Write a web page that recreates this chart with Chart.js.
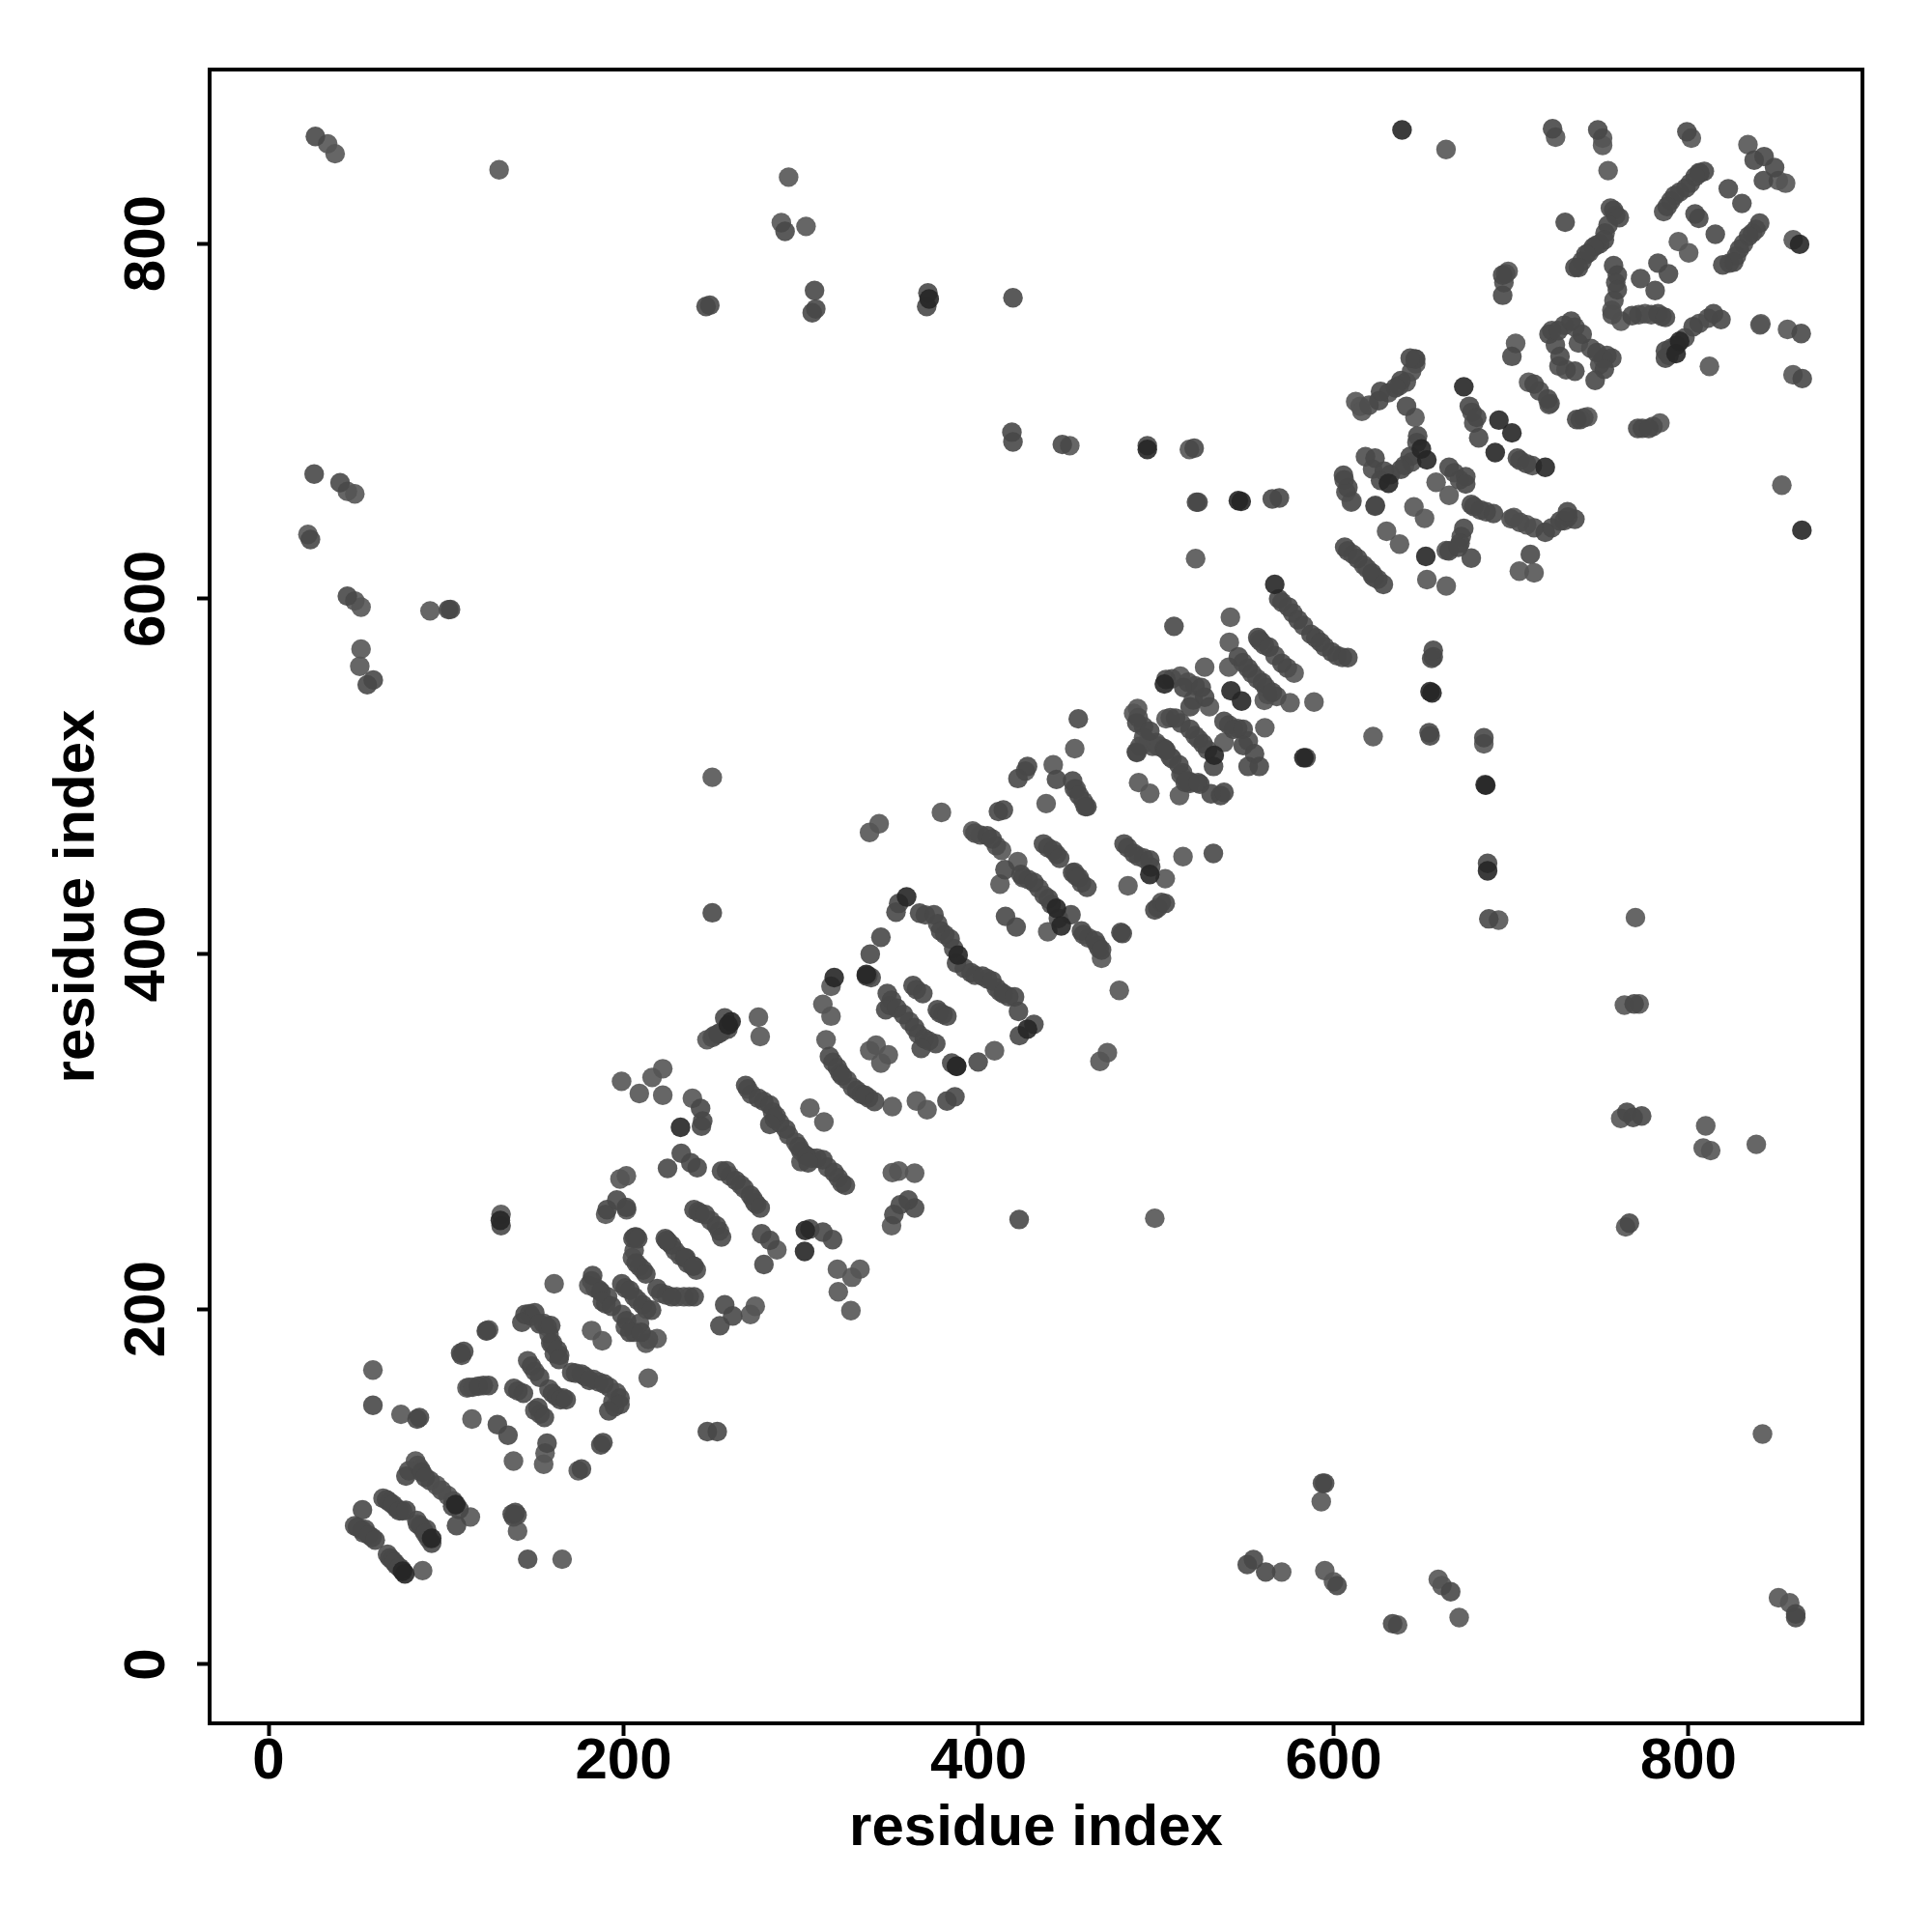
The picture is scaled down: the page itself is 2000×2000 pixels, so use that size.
<!DOCTYPE html>
<html>
<head>
<meta charset="utf-8">
<script src="https://cdn.jsdelivr.net/npm/chart.js@4"></script>
<style>
  html, body { margin: 0; background: #fff; }
  canvas { display: block; }
</style>
</head>
<body>
<canvas id="myChart" width="2000" height="2000"></canvas>
<script>
// contacts, as [residue, residue], by how dark the dot looks
const lightPoints = [
  [58.8,165.7],[74.6,140.8],[86.8,52.8],[82.8,114.5],[94.6,100.9],[101,95],[113.7,83],[140.3,75],[165.4,59.2],
  [114.6,138.1],[138,114.5],[155,112.7],[155.8,119],[174.5,109],[111.8,155.7],[160.9,214.3],[182,188],[188,182.2],
  [213.9,161.2],[180.4,213.4],[212.6,180.8],[218.9,183.5],[198.9,328.3],[208.9,321.4],[222.1,320.5],[216.1,330.5],
  [222.1,335.4],[238.8,318.7],[276,364.4],[277,353.5],[247,351.7],[312.9,305.4],[305,313.2],[312.3,371.7],[316.9,365],
  [314.1,351.7],[351.4,314.1],[365,317.2],[371,312.3],[342.3,348.6],[349.2,343.2],[338.7,345.6],[345,338.6],
  [316.9,381.8],[198,273.3],[201.6,275.1],[320.5,222.5],[333.2,222.5],[328.7,218],[321,209.8],[328.1,199.2],
  [274.2,201.6],[271.5,197],[286.4,233.4],[355,277.8],[364,276.6],[351.4,276.9],[351,247],[409,345.5],[468.4,339.5],
  [472.6,344.4],[479.3,379.5],[338.6,468.4],[344,473.3],[379.1,479.7],[396.7,469.3],[413,458.4],[412.1,439.3],
  [422.1,452],[439,412.5],[469.3,397.6],[442.1,506.5],[454.2,515.6],[438.1,484.7],[484.2,438.4],[515.2,454.8],
  [488.9,513.8],[495.6,519.2],[490.2,496.5],[496.5,490.5],[513.2,489.2],[505.2,442.4],[522.3,622.6],[541.9,589.6],
  [541.3,575.5],[577.8,558.2],[541,561.5],[561,542.8],[575.5,541.5],[589,541.9],[527.4,561.5],[513.7,556.4],
  [530.1,539.2],[489.6,538.2],[487.4,535.5],[505.6,532.4],[561.3,527.4],[622.3,522.4],[538.3,519.2],[663.4,853],
  [725.1,859.9],[751.6,859.4],[751.6,855.3],[754.7,841.1],[801.6,859.4],[833.5,855.7],[854.7,834],[850.6,835.5],
  [794.3,801.1],[800.1,794.8],[859,802.1],[698.4,784.4],[756.8,762.5],[762,756.3],[775.5,760.5],[702.6,743.8],
  [840.8,754.8],[855.8,751.7],[811.8,730.9],[858.9,726.1],[852.6,664],[709.9,721.9],[721.4,709.4],[743.2,702.5],
  [783.9,699],[645.9,702.1],[615,708.4],[646.3,732.3],[657.8,665.6],[665.1,658.3],[701.6,645.8],[708.8,641.7],
  [704.7,615.6],[713,614.6],[645.3,651.7],[651.3,645.3],[629.9,638],[637.2,630.8],[663.5,627.2],[652.6,610.8],
  [663.5,607.2],[610,654.4],[612.5,711],[616,705.6],[610.4,655],[293,837.4],[288.9,811.8],[302.8,809.7],[129.9,841.6],
  [33.3,856.2],[37.5,850.6],[44.4,660.5],[48.6,659.1],[22.2,636.2],[48.6,598.8],[52.1,595.3],[52.1,571.7],[51.4,562],
  [91,593.2],[451.4,686.2],[518.8,684.1],[250,499.5],[426.4,503],[499.3,251.2],[684.7,518.3],[693,419.1],[770.1,420.5],
  [763.9,371.2],[772.2,371.9],[761.8,307.4],[764.6,246.3],[809.7,303.2],[808.3,290.7],[812.5,289.3],[838.2,292.8],
  [841.7,129.7],[593.1,91.6],[595.1,52.7],[600,46.5],[636.1,22.2],[659,47.9],[661.1,44.4],[670.8,26.4],[850.7,37.5],
  [857,34.7],[570.8,52],[840.3,754.2],[131,253.4],[124,188.4],[189.9,253.4],[201.7,256]
];
const midPoints = [
  [50.1,77.3],[52.9,75.5],[56.5,72.8],[60.1,70],[68.3,60],[71,57.4],[73.7,54.6],[52.9,87],[66.5,92.7],[70.1,90],
  [73.7,86.4],[77.4,86.7],[85.5,78.2],[88.3,73.7],[91.9,68.2],[77.4,106],[86.4,108.2],[88.3,105.4],[103.7,89],[107.3,87.3],
  [105.9,78.2],[137.3,84.6],[139,85.5],[146,59.2],[58.8,145.9],[83.7,138.1],[85,139],[128.9,135],[134.9,129],[156.9,124.5],
  [176.3,110],[187.2,123.6],[188.4,124.9],[118.2,156.6],[124,157],[108.2,175.3],[110,176.2],[122.7,187.7],[131,247],
  [138.2,155.4],[143.6,152.6],[151.8,144.5],[155.4,139],[148.1,168],[152.7,161.7],[160,152.6],[164.5,149],[167.7,149],
  [144.5,197],[150,198],[142.7,192.6],[152.7,191.7],[159,190.8],[159,180.8],[162.7,177],[163.6,171.7],[170.8,164.4],
  [176.3,163.5],[180.8,159.9],[189,158],[198,150],[198,146.3],[191.7,142.7],[182.6,218.9],[187.2,209.8],[188.1,204.4],
  [193.2,201.6],[201.7,193.5],[203.5,187],[209.9,187],[207.1,240.7],[205.3,239.8],[223.5,239.8],[227.1,236.1],[238.9,224.3],
  [234.4,228.9],[207.1,226],[212.6,219.8],[199,214.3],[203.5,210.7],[210.8,202.5],[215.8,199.5],[218.9,211.6],[227.1,207],
  [239.8,207],[243.4,313],[244.6,306],[243.9,303],[257,364],[258.8,357.7],[253.3,355],[268.8,326],[276,318.7],[282.4,315],
  [286,308.7],[291.5,301.4],[282.4,304],[298.7,291.5],[303.3,286],[312.3,284.2],[318.7,277],[325,269.7],[304,282.4],
  [336.8,387.7],[339.5,386.7],[316,342.3],[320.5,336],[323.2,331.4],[331.4,323.2],[336,320.5],[341.4,316.9],[382.2,317.2],
  [386.7,319.6],[348.6,377.7],[347.7,368.6],[354,369.5],[357.7,365.9],[364,358.6],[369.5,352.3],[375.9,349.5],[367.7,346.8],
  [363.1,382.2],[368.6,377.7],[376.8,368.6],[382.2,365],[387.7,336.8],[190.7,256],[196.2,261.5],[201.6,257.3],[237.9,282.4],
  [241.5,279.7],[224.8,279.3],[232.5,287.8],[255.2,277.8],[263.3,272.4],[271.5,264.2],[277,257],[239.7,256],[246,253.3],
  [252.4,247],[255.2,240.6],[277.8,242.4],[282.4,238.8],[279.1,225.2],[305,245.2],[312.3,243.4],[317.8,239.2],[360.4,261.5],
  [364,257],[355.9,258.8],[352.3,253.3],[206.2,240.6],[208,239.7],[224.3,238.8],[235.2,228.9],[239.7,224.3],[257,202.5],
  [261.5,196.2],[254.3,190.7],[353.5,423.6],[355,428.5],[366.8,423],[374.9,422.1],[378.6,413],[384,408.5],[387.6,394.9],
  [395.8,389.4],[402.2,387.6],[407.6,384.9],[414,377.6],[420.3,375.8],[422.5,367.7],[431.2,360.4],[423,354],[399.8,339.2],
  [384.9,338.6],[345,409.4],[339,399.9],[337.7,387.6],[404.9,466.6],[407.6,464.8],[414.9,447.5],[423.9,444.8],[431.2,440.3],
  [439.4,431.2],[452.1,422.1],[415.2,421.2],[421.2,415.2],[458,413],[465.7,407.6],[469.3,402.2],[480.2,412.1],[481,411.5],
  [411.2,480.2],[414,481.1],[436.6,462],[442.1,458.4],[445.7,453.9],[453,445.7],[456.6,443],[461.1,437.5],[427.6,505.6],
  [443.9,498.3],[453,497.4],[456.6,489.3],[461.1,482.9],[482,462],[487.5,456.6],[496.5,453],[499.3,424.8],[505.2,428.5],
  [504.7,515.6],[512.9,506.5],[516.5,496.5],[524.7,495.6],[522.8,654.4],[523.7,654.4],[565.5,656.2],[569.5,656.8],[569.1,600],
  [574.6,595.4],[580,588.2],[587.3,580],[592.7,575.5],[599,570],[608.1,566.9],[510.1,584.5],[557.3,578.2],[563.7,572.7],
  [570.9,563.7],[546.4,567.3],[551.9,560.9],[560,552.8],[565.5,547.3],[505.6,554.6],[515.6,550],[525.5,550],[527.4,544.6],
  [519.2,539.2],[489.2,530.1],[496.5,525.5],[489.2,513.4],[505.6,514.7],[517.4,497.4],[523.7,496.5],[511,532.8],[519.2,526.5],
  [526.5,518.3],[532.4,505.6],[538.3,531],[543.7,526.5],[549.1,526.5],[549.1,517.4],[555.5,512.8],[551.9,505.6],[558.2,505.6],
  [584.5,510.5],[654.4,522.8],[653.9,524.6],[656.2,567.3],[655.3,566.4],[656.2,571],[456.2,532.4],[531,490.2],[536.4,489.2],
  [538.3,491],[460.2,482.9],[532.3,456.6],[623.6,652.6],[606.3,629],[613.6,622.6],[621.7,614.5],[628.1,608.1],[608.1,662.6],
  [723.4,864.7],[748.9,864],[799.1,863],[837,847],[842.6,849],[848.5,842.8],[842.2,835.5],[808.9,840.7],[806.4,839.7],
  [803.7,837.6],[798.5,831.3],[792.2,827.1],[788,820.9],[822.4,830.9],[830.1,822.6],[803.7,816.7],[805.8,814.2],[815.1,805.3],
  [840.1,811.5],[833.9,804.2],[828.7,796.9],[825.5,789.6],[819.3,788],[730.5,812],[757.8,818.8],[761,814.6],[754.7,810.5],
  [752.6,802.1],[746.4,798],[742.2,793.8],[736,786.5],[738,786.5],[695.3,782.3],[695.3,770.9],[757.8,787.6],[759.9,782.3],
  [759.9,774],[773,780.3],[781.2,773.6],[782.8,789],[788.7,783],[768.2,759.4],[782.8,760.5],[787,758.4],[700.5,736.5],
  [721.4,749],[726.6,751],[733.9,756.3],[740.1,749],[727.6,736.5],[736,728.2],[748.4,738.6],[756.8,735.5],[752.6,729.2],
  [747.4,723],[818.3,757.3],[814.1,760.5],[802.6,753.2],[793.2,742.7],[787,739.6],[787,735.5],[863.5,749.4],[864.1,724],
  [713,720.9],[720.7,712.5],[737,701],[771.4,695.9],[777.6,695.9],[676.5,708.4],[680.7,702.1],[681.8,690.6],[703.6,679.2],
  [708.8,676],[646.3,735],[643.2,735.5],[638,722.9],[634.9,718.8],[626.5,716.7],[625.5,711.5],[641.1,708.4],[647.4,691.7],
  [643.2,680.2],[638,672.9],[623.4,679.2],[628.6,671.9],[626.5,666.7],[665.1,674],[674.5,668.8],[674.5,664.6],[623.4,652.1],
  [677.6,653.1],[682.8,650],[690.1,648],[673.4,639.6],[671.3,631.3],[719.3,637.5],[727.6,643.8],[736,644.8],[731.8,649],
  [710.9,625],[677.6,622.9],[665,627],[670.3,629],[605.6,669.6],[26.4,860.3],[291,806.9],[246.5,764.6],[248.6,765.3],
  [307.6,773.6],[308.3,763.2],[306.3,761.1],[371.5,772.2],[370.8,764.6],[419.4,769.5],[25.7,670.2],[40.3,665.4],[23.6,633.4],
  [44.4,601.5],[55.6,551.6],[59,554.3],[101.4,593.9],[102.5,594],[418.8,693.8],[419.4,688.3],[447.2,686.9],[495.1,686.2],
  [521.5,684.8],[250,423.2],[422.2,498.8],[422.9,250.5],[247.2,131.1],[252.8,131.1],[685.4,495.4],[684.7,521.8],[686.8,451],
  [687.5,419.8],[769.4,371.9],[765.3,310.8],[773.6,308.8],[768.8,308],[766.7,248.4],[593.8,102],[595,102],[551.4,56.2],
  [554.9,59],[561.8,52],[602,44.4],[633.3,22.9],[666,40.9],[860.4,28.4],[860.4,26.4]
];
// dots inside the solid runs along the helices
const runPoints = [
  [53.5,74],[58.3,71.5],[54.5,76],[48.5,78],[69.5,59],[72,56],[75,53.5],[67,62],[68,91.5],[72,88],[75.5,86.5],[64.5,93.5],
  [83.5,81],[87,76],[90,71],[84,79],[89,76],[84,112],[85.5,110],[79,109],[91,103.5],[97.5,98],[104,92],[140,84],[138,83],
  [113,156],[115,156],[121,157],[108.8,174],[123,188],[148,196],[155,192],[147,197.5],[157,190],[158,186],[160,181],[161,175],
  [164,174],[173,164],[178.5,162],[183,160.5],[186,159],[192,156],[196,153],[195,145],[194,148],[150,165],[146,171],[150,143],
  [153,141],[162,151],[158,155],[140.5,154],[166,150],[182,216],[184,212],[186,211],[190,203],[191,207],[199,197],[201,190],
  [206,187],[214,183],[209,192],[206,233],[209,224],[205,229],[211,222],[201,212],[206,207],[208,205],[213,200],[221,209],
  [224,208],[230,207],[234,207],[237,207],[225,238],[229,233],[232,230],[236,226],[241,222],[270,324],[272,321],[279,317],
  [284,311],[288,305],[285,307],[293,298],[297,294],[300,289],[302,287],[306,285],[309,285],[315,280],[321,274],[323,271],
  [300,283],[258,278],[260,275],[266,270],[268,268],[274,260],[273,262],[275,259],[242,255],[249,250],[254,244],[243,254],
  [250,353],[255,356],[251,354],[318,339],[322,333],[326,329],[329,325],[334,321],[338,319],[351,374],[350,371],[361,362],
  [366,355],[372,351],[365,380],[378,367],[380,366],[370,422],[377,417],[381,411],[386,403],[392,392],[398,388],[405,386],
  [410,381],[412,379],[417,376],[398,468],[401,467],[410,461],[425,443],[428,442],[434,437],[437,433],[441,428],[445,420],
  [459,411],[462,409],[467,405],[468,403],[439,460],[444,456],[455,444],[458,440],[454,446],[455,493],[459,486],[454,493],
  [484,460],[490,455],[493,454],[497,449],[503,429],[501,426],[491,517],[498,517],[501,517],[508,511],[514,501],[519,496],
  [571,598],[577,592],[583,585],[590,578],[595,573],[602,568],[605,567],[559,576],[561,574],[567,568],[574,561],[558,577],
  [549,564],[554,558],[557,555],[562,550],[568,545],[563,546],[509,555],[518,553],[522,551],[521,543],[490,533],[493,528],
  [493,522],[500,519],[502,517],[509,510],[515,502],[519,497],[508,533],[514,530],[522,523],[529,515],[524,521],[541,529],
  [546,527],[552,520],[806,840],[801,834],[795,829],[790,824],[786,818],[838,808],[836,806],[831,800],[827,793],[823,789],
  [756,820],[750,800],[748,799],[744,795],[740,790],[759,816],[753,806],[696,778],[697,783],[759,778],[758,768],[757,760],
  [723,751],[730,754],[736,753],[738,744],[725,743],[727,731],[731,729],[752,735],[750,732],[754,737],[745,741],[811,758],
  [806,755],[798,747],[790,741],[789,737],[772,760],[779,760],[785,759],[716,717],[722,710],[741,702],[739,701],[780,697],
  [774,696],[678,705],[679,699],[705,678],[712,675],[644,728],[641,722],[637,720],[631,716],[620,709],[646,735],[700,645],
  [705,643],[713,640],[723,640],[732,646],[730,644],[647,688],[644,677],[640,675],[632,670],[622,673],[618,680],[679,652],
  [686,649],[672,635],[668,671],[671,667],[606,667],[607,660],[608,627],[611,625],[617,619],[619,617],[625,611],[622,613],
  [623,612]
];
const darkPoints = [
  [76.8,51],[75.5,52.5],[91.9,71],[105.5,90],[260.6,361.9],[259,360],[302,232.5],[302.4,244.3],[232.1,302.4],[566.9,608.1],
  [532.8,511.9],[546.4,655.3],[548,654.8],[654.4,547.7],[655.5,547],[691.1,682.3],[693.2,700.6],[700.5,693.4],[652,623.9],
  [649.5,684.4],[652.6,678.2],[673.4,719.4],[719.3,674],[863.9,638.6],[638.6,864],[318.7,386.7],[443.9,425.7],[446.6,415.8],
  [388.5,399.4],[336.8,388.5],[427.6,357.7],[359.5,432.1],[387.6,336.8],[504.7,552],[542.2,548.2],[548.2,542.4],[496.5,444.8],
  [862.6,799.6],[372.2,768.8],[495.1,684.1],[130.6,250],[685.8,495],[686.8,446.8],[583.3,510.5],[793,738],[631,665],[795,745]
];
const tickValues = [0, 200, 400, 600, 800];
const axisTitle = "residue index";

const ctx = document.querySelector("#myChart").getContext("2d");
const font = { family: "'Liberation Sans'", size: 60, weight: "bold" };

function toXY(list) {
  return list.map((p) => ({ x: p[0], y: p[1] }));
}

function dotSet(list, color, order) {
  return {
    data: toXY(list),
    backgroundColor: color,
    borderWidth: 0,
    pointRadius: 10.2,
    pointHoverRadius: 10.2,
    order: order,
  };
}

// outer box of the plot
const frame = {
  id: "frame",
  afterDatasetsDraw(chart) {
    const a = chart.chartArea;
    const c = chart.ctx;
    c.save();
    c.strokeStyle = "#000";
    c.lineWidth = 4;
    c.strokeRect(a.left, a.top, a.right - a.left, a.bottom - a.top);
    c.restore();
  },
};

function keepTicks(axis) {
  axis.ticks = tickValues.map((v) => ({ value: v }));
}

const myChart = new Chart(ctx, {
  type: "scatter",
  data: {
    datasets: [
      dotSet(darkPoints, "rgba(38,38,38,0.9)", 1),
      dotSet(midPoints, "rgba(72,72,72,0.9)", 2),
      dotSet(runPoints, "rgba(78,78,78,0.9)", 3),
      dotSet(lightPoints, "rgba(85,85,85,0.9)", 4),
    ],
  },
  options: {
    responsive: false,
    animation: false,
    layout: { padding: { top: 72, right: 72, left: 0, bottom: 0 } },
    plugins: { legend: { display: false }, tooltip: { enabled: false } },
    scales: {
      x: {
        type: "linear",
        min: -33.2,
        max: 898,
        afterBuildTicks: keepTicks,
        afterFit(axis) {
          axis.height = 216;
        },
        border: { display: false },
        grid: { drawOnChartArea: false, tickLength: 13, tickWidth: 4, tickColor: "#000" },
        ticks: { color: "#000", font: font, padding: -9, maxRotation: 0 },
        title: { display: true, text: axisTitle, color: "#000", font: font, padding: { top: 0, bottom: 71 } },
      },
      y: {
        type: "linear",
        min: -33.2,
        max: 898,
        afterBuildTicks: keepTicks,
        afterFit(axis) {
          axis.width = 217;
        },
        border: { display: false },
        grid: { drawOnChartArea: false, tickLength: 13, tickWidth: 4, tickColor: "#000" },
        ticks: { color: "#000", font: font, padding: 0, minRotation: 90, maxRotation: 90, crossAlign: "center" },
        title: { display: true, text: axisTitle, color: "#000", font: font, padding: { top: 44, bottom: 44 } },
      },
    },
  },
  plugins: [frame],
});
</script>
</body>
</html>
